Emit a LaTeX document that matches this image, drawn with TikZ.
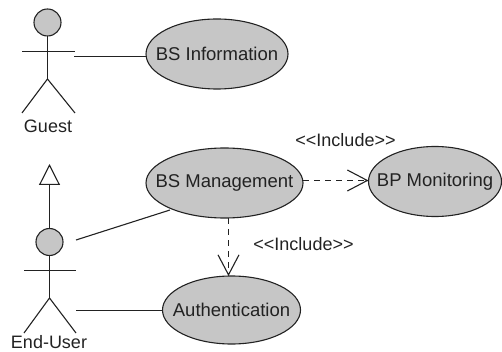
\documentclass[tikz,border=0pt]{standalone}
\usepackage{fontspec}
\setmainfont{Liberation Sans}
\usetikzlibrary{shapes.geometric,arrows.meta}
\definecolor{ucfill}{HTML}{C6C6C6}
\definecolor{ink}{HTML}{222222}
\tikzset{
  usecase/.style={ellipse,draw=ink,fill=ucfill,line width=1.1pt,inner sep=0pt,outer sep=0pt,minimum width=#1},
  uctext/.style={font=\fontsize{18.5}{20}\selectfont,text=ink,inner sep=0pt},
  actorhead/.style={circle,draw=ink,fill=ucfill,line width=1.1pt,minimum size=27pt,inner sep=0pt,outer sep=0pt},
  limb/.style={draw=ink,line width=1.1pt},
  assoc/.style={draw=ink,line width=1.1pt},
  incl/.style={draw=ink,line width=1.1pt,dash pattern=on 6pt off 5pt,-{Straight Barb[length=20pt,width=21pt,line width=1.1pt]}},
  general/.style={draw=ink,line width=1.1pt,-{Triangle[open,length=21pt,width=21pt,line width=1.1pt,fill=white]}},
  lbl/.style={font=\fontsize{18}{20}\selectfont,text=ink,inner sep=0pt},
  actorlbl/.style={font=\fontsize{18}{20}\selectfont,text=ink,inner sep=0pt}
}
\begin{document}
\begin{tikzpicture}[x=1pt,y=-1pt]
\useasboundingbox (0,0) rectangle (502,352);
% use cases
\node[usecase=142pt,minimum height=70pt,label={[uctext]center:BS Information}] (info) at (217,54) {};
\node[usecase=157pt,minimum height=70pt,label={[uctext]center:BS Management}] (mgmt) at (224.5,183) {};
\node[usecase=133pt,minimum height=70pt,label={[uctext]center:BP Monitoring}] (mon) at (435,181.5) {};
\node[usecase=138pt,minimum height=68pt,label={[uctext]center:Authentication}] (auth) at (231.5,310) {};
% guest actor
\node[actorhead] (ghead) at (47.5,22.5) {};
\coordinate (ghip) at (47.5,79);
\coordinate (gla) at (22,51.5);
\coordinate (gra) at (75,51.5);
\coordinate (gll) at (22,113);
\coordinate (grl) at (75,113);
\coordinate (gport) at (74,56.5);
\draw[limb] (ghead) -- (ghip);
\draw[limb] (gla) -- (gra);
\draw[limb] (gll) -- (ghip) -- (grl);
\node[actorlbl] (glabel) at (48,126) {Guest};
% end-user actor
\node[actorhead] (ehead) at (49.5,242) {};
\coordinate (ehip) at (49.5,298);
\coordinate (ela) at (24,270.5);
\coordinate (era) at (76,270.5);
\coordinate (ell) at (24,333);
\coordinate (erl) at (76,333);
\coordinate (eport) at (76,240);
\coordinate (eport2) at (76,310.5);
\coordinate (gentip) at (49.5,164);
\coordinate (mgmtfoot) at (170,210);
\draw[limb] (ehead) -- (ehip);
\draw[limb] (ela) -- (era);
\draw[limb] (ell) -- (ehip) -- (erl);
\node[actorlbl] (elabel) at (49,342.5) {End-User};
% connectors
\draw[assoc] (gport) -- (gport-|info.west);
\draw[assoc] (eport) -- (mgmtfoot);
\draw[assoc] (eport2) -- (eport2-|auth.west);
\draw[general] (ehead.north) -- (gentip);
\coordinate (inclside) at (303,180.5);
\draw[incl] (inclside) -- (inclside-|mon.west);
\coordinate (incltop) at (228.5,218);
\draw[incl] (incltop) -- (auth.north-|incltop);
\node[lbl] (l1) at (345.5,140) {<{}<Include>{}>};
\node[lbl] (l2) at (303.5,244) {<{}<Include>{}>};
\end{tikzpicture}
\end{document}
